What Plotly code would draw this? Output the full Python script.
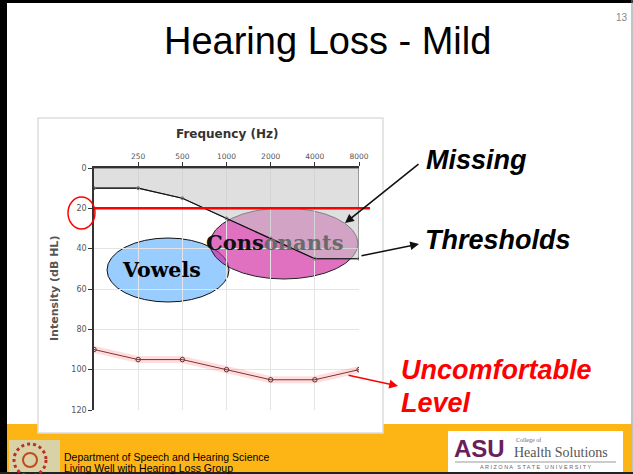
import numpy as np
import plotly.graph_objects as go

# ---------------- data ----------------
freqs = [125, 250, 500, 1000, 2000, 4000, 8000]
thresholds = [10, 10, 15, 25, 35, 45, 45]
uncomfortable = [90, 95, 95, 100, 105, 105, 100]
x_tick_vals = [250, 500, 1000, 2000, 4000, 8000]
x_tick_labels = ["250", "500", "1000", "2000", "4000", "8000"]
y_tick_vals = [0, 20, 40, 60, 80, 100, 120]
normal_limit = 20

W, H = 633, 474


def X(px):
    return px / W


def Y(py):
    return 1 - py / H


fig = go.Figure()

# gray "missing" region (above thresholds)
fig.add_trace(go.Scatter(
    x=freqs + freqs[::-1],
    y=thresholds + [0] * len(freqs),
    fill="toself", fillcolor="rgba(200,200,200,0.58)",
    line=dict(color="#555555", width=1),
    mode="lines", hoverinfo="skip", showlegend=False))

# threshold line
fig.add_trace(go.Scatter(
    x=freqs, y=thresholds, mode="lines+markers",
    line=dict(color="#111111", width=1.2),
    marker=dict(symbol="circle-open", size=3, color="#777777"),
    showlegend=False))

# uncomfortable level: glow + line
fig.add_trace(go.Scatter(
    x=freqs, y=uncomfortable, mode="lines",
    line=dict(color="rgba(255,120,120,0.25)", width=7),
    hoverinfo="skip", showlegend=False))
fig.add_trace(go.Scatter(
    x=freqs, y=uncomfortable, mode="lines+markers",
    line=dict(color="#7a3434", width=1),
    marker=dict(symbol="circle-open", size=4.5, color="#6a3030",
                line=dict(width=1)),
    showlegend=False))

shapes = []
# slide borders
shapes.append(dict(type="rect", xref="paper", yref="paper", x0=X(0), x1=X(7), y0=0, y1=1,
                   fillcolor="black", line=dict(width=0), layer="below"))
shapes.append(dict(type="rect", xref="paper", yref="paper", x0=0, x1=1, y0=Y(3), y1=1,
                   fillcolor="black", line=dict(width=0), layer="below"))
shapes.append(dict(type="line", xref="paper", yref="paper", x0=X(632), x1=X(632), y0=0, y1=1,
                   line=dict(color="#888888", width=1), layer="below"))
# orange footer band
shapes.append(dict(type="rect", xref="paper", yref="paper", x0=X(7), x1=X(632), y0=Y(472), y1=Y(424),
                   fillcolor="#FDB515", line=dict(width=0), layer="below"))
shapes.append(dict(type="rect", xref="paper", yref="paper", x0=X(0), x1=X(633), y0=Y(474), y1=Y(472),
                   fillcolor="#222222", line=dict(width=0), layer="below"))
# picture panel
shapes.append(dict(type="rect", xref="paper", yref="paper", x0=X(38), x1=X(383), y0=Y(433), y1=Y(118),
                   fillcolor="white", line=dict(color="#dddddd", width=1.5), layer="below"))
# left logo
shapes.append(dict(type="rect", xref="paper", yref="paper", x0=X(9), x1=X(60), y0=Y(472), y1=Y(440),
                   fillcolor="#d9d2a6", line=dict(width=0), layer="below"))
shapes.append(dict(type="circle", xref="paper", yref="paper", x0=X(14), x1=X(46), y0=Y(476), y1=Y(444),
                   fillcolor="rgba(0,0,0,0)", line=dict(color="#b8302a", width=3, dash="dot"), layer="below"))
shapes.append(dict(type="circle", xref="paper", yref="paper", x0=X(23), x1=X(37), y0=Y(467), y1=Y(453),
                   fillcolor="rgba(0,0,0,0)", line=dict(color="#c04a20", width=2), layer="below"))
# ASU logo box
shapes.append(dict(type="rect", xref="paper", yref="paper", x0=X(448), x1=X(623), y0=Y(472), y1=Y(431),
                   fillcolor="white", line=dict(width=0), layer="below"))
shapes.append(dict(type="line", xref="paper", yref="paper", x0=X(455), x1=X(616), y0=Y(462), y1=Y(462),
                   line=dict(color="#999999", width=1), layer="below"))
# ellipses
shapes.append(dict(type="circle", xref="paper", yref="paper", x0=X(107), x1=X(229), y0=Y(302), y1=Y(238),
                   fillcolor="#99ccff", line=dict(color="#111111", width=1), layer="between"))
shapes.append(dict(type="circle", xref="paper", yref="paper", x0=X(210), x1=X(358), y0=Y(279), y1=Y(208),
                   fillcolor="rgba(208,35,158,0.65)", line=dict(color="#222222", width=1), layer="between"))
# red 20 dB line
shapes.append(dict(type="line", xref="paper", yref="y", x0=X(94), x1=X(370), y0=normal_limit, y1=normal_limit,
                   line=dict(color="#ff0000", width=2.5), layer="above"))
# red circle around 20
shapes.append(dict(type="circle", xref="paper", yref="paper", x0=X(68), x1=X(95), y0=Y(229), y1=Y(197),
                   fillcolor="rgba(0,0,0,0)", line=dict(color="#ff0000", width=1.5), layer="above"))

annotations = []


def txt(text, px, py, size, color="black", family="Liberation Sans", xanchor="center",
        yanchor="middle", textangle=0):
    annotations.append(dict(text=text, xref="paper", yref="paper", x=X(px), y=Y(py),
                            xanchor=xanchor, yanchor=yanchor, showarrow=False,
                            textangle=textangle,
                            font=dict(size=size, color=color, family=family)))


def arrow(x_head, y_head, x_tail, y_tail, color):
    annotations.append(dict(text="", xref="paper", yref="paper", x=X(x_head), y=Y(y_head),
                            axref="pixel", ayref="pixel", ax=x_tail - x_head, ay=y_tail - y_head,
                            showarrow=True, arrowhead=2, arrowsize=1.1, arrowwidth=1.6,
                            arrowcolor=color))


txt("Hearing Loss - Mild", 328, 41, 38)
txt("13", 622, 18, 10, color="#888888")
txt("<b>Frequency (Hz)</b>", 227, 134, 12, color="#333333", family="DejaVu Sans")
txt("<b>Intensity (dB HL)</b>", 54, 289, 11, color="#555555", family="DejaVu Sans", textangle=-90)
txt("<b>Vowels</b>", 161, 270, 20.5, family="DejaVu Serif")
txt("<b>Cons<span style='color:#6a6a6a'>onants</span></b>", 275, 243, 21, color="#111111", family="DejaVu Serif")
txt("<b><i>Missing</i></b>", 424, 160, 27, xanchor="left")
txt("<b><i>Thresholds</i></b>", 423, 240, 27, xanchor="left")
txt("<b><i>Uncomfortable</i></b>", 399, 370, 27, color="#ff0000", xanchor="left")
txt("<b><i>Level</i></b>", 399, 403, 27, color="#ff0000", xanchor="left")
txt("Department of Speech and Hearing Science", 62, 457, 10.5, xanchor="left")
txt("Living Well with Hearing Loss Group", 62, 468, 10.5, xanchor="left")
txt("<b>ASU</b>", 480, 448, 24, color="#6b1e5c", family="Liberation Sans")
txt("College of", 514, 440, 6, color="#666666", family="Liberation Serif", xanchor="left")
txt("Health Solutions", 512, 452, 14, color="#555555", family="Liberation Serif", xanchor="left")
txt("A R I Z O N A   S T A T E   U N I V E R S I T Y", 535, 467, 5.5, color="#666666")

arrow(345, 223, 420, 163, "#111111")
arrow(419, 244, 360, 256, "#111111")
arrow(398, 386, 347, 375, "#ff0000")

fig.update_layout(
    width=W, height=H,
    margin=dict(l=0, r=0, t=0, b=0),
    paper_bgcolor="white", plot_bgcolor="white",
    shapes=shapes, annotations=annotations,
    showlegend=False,
    xaxis=dict(type="log", range=[np.log10(125), np.log10(8000)],
               domain=[X(94), X(359)], side="top", anchor="y",
               tickvals=x_tick_vals, ticktext=x_tick_labels,
               showline=True, linecolor="#333333", linewidth=1.5,
               ticks="outside", ticklen=4, tickcolor="#333333",
               showgrid=True, gridcolor="#e4e4e4", gridwidth=1,
               zeroline=False, automargin=False,
               tickfont=dict(size=7.5, color="#555555", family="DejaVu Sans")),
    yaxis=dict(range=[120, 0], domain=[Y(410), Y(168)], anchor="x",
               tickvals=y_tick_vals,
               showline=True, linecolor="#333333", linewidth=1.5,
               ticks="outside", ticklen=4, tickcolor="#333333",
               showgrid=True, gridcolor="#e4e4e4", gridwidth=1,
               zeroline=False, automargin=False,
               tickfont=dict(size=8, color="#555555", family="DejaVu Sans")),
)

fig.write_html("out.html",
               config={"displayModeBar": False},
               post_script="document.body.style.margin='0';document.body.style.overflow='hidden';")
